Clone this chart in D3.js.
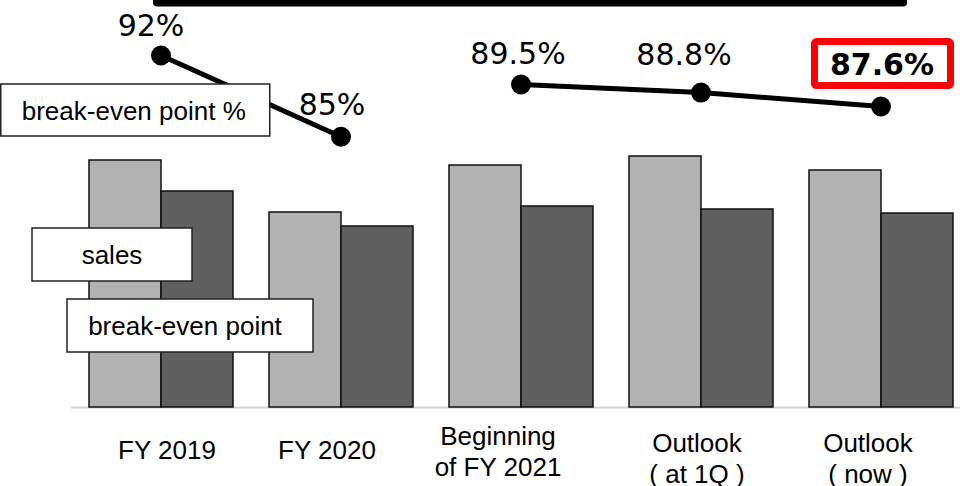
<!DOCTYPE html>
<html>
<head>
<meta charset="utf-8">
<script src="https://cdn.jsdelivr.net/npm/d3@7"></script>
<style>
  html, body { margin: 0; padding: 0; background: #fff; }
  svg { display: block; }
</style>
</head>
<body>
<svg id="chart" width="960" height="486"></svg>
<script>
// Category labels (one array of lines per category)
const categories = ["FY 2019", "FY 2020", "Beginning of FY 2021", "Outlook (at 1Q)", "Outlook (now)"];
const categoryLines = [["FY 2019"], ["FY 2020"], ["Beginning", "of FY 2021"], ["Outlook", "( at 1Q )"], ["Outlook", "( now )"]];
// Sales and break-even point (relative units)
const sales = [247, 195, 242, 251, 237];
const breakEven = [216, 181, 201, 198, 194];
// Break-even point ratio (%) and which line segment each point belongs to
const breakEvenPct = [92, 85, 89.5, 88.8, 87.6];
const pctLabels = ["92%", "85%", "89.5%", "88.8%", "87.6%"];
const pctSegment = [0, 0, 1, 1, 1];
const highlightIndex = 4;
// Legend captions
const legendSales = "sales";
const legendBreakEven = "break-even point";
const legendPct = "break-even point %";

const svg = d3.select("#chart");
const baseY = 407;

const x = d3.scaleBand().domain(categories).range([71, 971]).paddingInner(0.2).paddingOuter(0.1);
const xSub = d3.scaleBand().domain(["sales", "breakEven"]).range([0, x.bandwidth()]);
const yBar = d3.scaleLinear().domain([0, 300]).range([baseY, baseY - 300]);
const yPct = d3.scaleLinear().domain([80, 95]).range([194.7, 20.7]);

// label nudges (layout only)
const catNudge = [6, -14, -23, -4, -13];
const pctNudgeX = [-10, -9, -3, -17, 0];
const pctNudgeY = [-20, -22, -21, -28, 0];

// Dark frame edge across the top
svg.append("rect")
  .attr("x", 153).attr("y", -20).attr("width", 754).attr("height", 26.5)
  .attr("rx", 4).attr("fill", "#000");

// Baseline
svg.append("line")
  .attr("x1", 71).attr("x2", 960).attr("y1", baseY + 0.5).attr("y2", baseY + 0.5)
  .attr("stroke", "#d4d4d4").attr("stroke-width", 2);

// Bars
const groups = svg.append("g").selectAll("g").data(categories).join("g")
  .attr("transform", d => `translate(${x(d)},0)`);

groups.append("rect")
  .attr("x", xSub("sales"))
  .attr("y", (d, i) => yBar(sales[i]))
  .attr("width", xSub.bandwidth())
  .attr("height", (d, i) => yBar(0) - yBar(sales[i]))
  .attr("fill", "#b2b2b2").attr("stroke", "#111").attr("stroke-width", 1.5);

groups.append("rect")
  .attr("x", xSub("breakEven"))
  .attr("y", (d, i) => yBar(breakEven[i]))
  .attr("width", xSub.bandwidth())
  .attr("height", (d, i) => yBar(0) - yBar(breakEven[i]))
  .attr("fill", "#5f5f5f").attr("stroke", "#111").attr("stroke-width", 1.5);

// Category labels
const cx = c => x(c) + x.bandwidth() / 2;
categories.forEach((c, i) => {
  const lines = categoryLines[i];
  const lx = cx(c) + catNudge[i];
  const t = svg.append("text")
    .attr("x", lx)
    .attr("y", lines.length === 1 ? 459 : (i === 2 ? 445 : 452))
    .attr("text-anchor", "middle")
    .attr("font-family", "'Liberation Sans', Arial, sans-serif")
    .attr("font-size", 26).attr("fill", "#000");
  lines.forEach((ln, j) => {
    t.append("tspan").attr("x", lx).attr("dy", j === 0 ? 0 : 31).text(ln);
  });
});

// Break-even ratio lines (two separate segments)
const pts = categories.map((c, i) => ({ c, v: breakEvenPct[i], seg: pctSegment[i], i }));
const line = d3.line().x(d => cx(d.c)).y(d => yPct(d.v));
d3.groups(pts, d => d.seg).forEach(([, seg]) => {
  svg.append("path").attr("d", line(seg))
    .attr("fill", "none").attr("stroke", "#000").attr("stroke-width", 5);
});
svg.append("g").selectAll("circle").data(pts).join("circle")
  .attr("cx", d => cx(d.c)).attr("cy", d => yPct(d.v)).attr("r", 10).attr("fill", "#000");

// Ratio labels
pts.forEach(d => {
  if (d.i === highlightIndex) {
    const py = yPct(d.v);
    svg.append("rect")
      .attr("x", cx(d.c) - 66.5).attr("y", py - 65).attr("width", 136).attr("height", 44)
      .attr("rx", 2).attr("fill", "#fff").attr("stroke", "#ff0000").attr("stroke-width", 7);
    svg.append("text")
      .attr("x", cx(d.c) + 1).attr("y", py - 32)
      .attr("text-anchor", "middle")
      .attr("font-family", "'DejaVu Sans', sans-serif").attr("font-weight", "bold")
      .attr("font-size", 30).attr("fill", "#000")
      .text(pctLabels[d.i]);
  } else {
    svg.append("text")
      .attr("x", cx(d.c) + pctNudgeX[d.i]).attr("y", yPct(d.v) + pctNudgeY[d.i])
      .attr("text-anchor", "middle")
      .attr("font-family", "'DejaVu Sans', sans-serif")
      .attr("font-size", 30).attr("fill", "#000")
      .text(pctLabels[d.i]);
  }
});

// Legend boxes
function legendBox(x0, y0, w, h, label, tx) {
  svg.append("rect").attr("x", x0).attr("y", y0).attr("width", w).attr("height", h)
    .attr("fill", "#fff").attr("stroke", "#222").attr("stroke-width", 1.5);
  svg.append("text").attr("x", x0 + tx).attr("y", y0 + 36)
    .attr("text-anchor", "middle")
    .attr("font-family", "'Liberation Sans', Arial, sans-serif")
    .attr("font-size", 26).attr("fill", "#000")
    .text(label);
}
legendBox(0.75, 84, 269, 52, legendPct, 133);
legendBox(32, 228, 160, 53, legendSales, 80);
legendBox(67, 299, 246, 53, legendBreakEven, 118);
</script>
</body>
</html>
